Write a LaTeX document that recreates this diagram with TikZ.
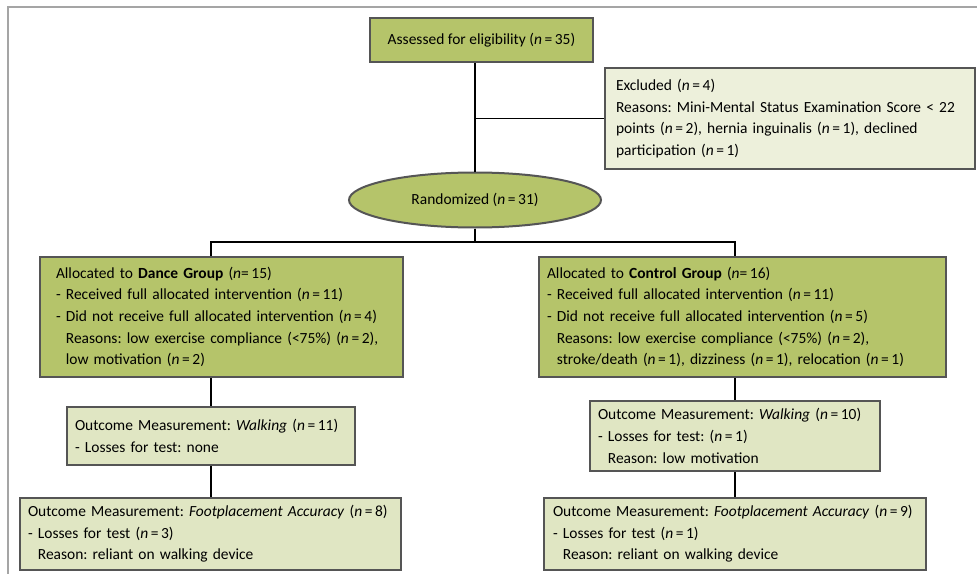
\documentclass[tikz,border=0pt]{standalone}
\usepackage{fontspec}
\setmainfont{Carlito}
\usepackage{tikz}
\usetikzlibrary{shapes.geometric,positioning,calc}
\definecolor{dancegreen}{RGB}{181,196,106}
\definecolor{outcomegreen}{RGB}{224,230,195}
\definecolor{exclgreen}{RGB}{237,240,219}
\definecolor{boxgray}{RGB}{85,85,85}
\definecolor{framegray}{RGB}{165,165,165}
\tikzstyle{box}=[draw=boxgray,line width=1.5pt,anchor=north west,align=left,inner ysep=0pt,font=\fontsize{11.6}{16.2}\selectfont]
\tikzstyle{link}=[line width=1.1pt]
\newcommand{\nn}[1]{(\textit{n}\,=\,#1)}
\newcommand{\ind}{\hphantom{- }}
\frenchspacing

\begin{document}
\begin{tikzpicture}[
  x=0.75pt, y=-0.75pt,
  greenbox/.style={box,fill=dancegreen},
  palebox/.style={box,fill=outcomegreen},
  exclbox/.style={box,fill=exclgreen},
  oval/.style={ellipse,draw=boxgray,line width=1.5pt,fill=dancegreen,inner sep=0pt,
    font=\fontsize{11.6}{16.2}\selectfont}
]
\useasboundingbox (0,0) rectangle (977,574);
\draw [framegray, line width=1.5pt] (8,574) -- (8,7.5) -- (977,7.5);

\node [greenbox, align=center, minimum width=167.25pt, minimum height=33pt] (assess)
  at (369,17) {Assessed for eligibility \nn{35}};
\node [exclbox, minimum width=277.5pt, minimum height=75.75pt, inner xsep=8.25pt, text width=261pt] (excl)
  at (604,67) {Excluded \nn{4}\\
  Reasons: Mini-Mental Status Examination Score < 22\\
  points \nn{2}, hernia inguinalis \nn{1}, declined\\
  participation \nn{1}};
\node [oval, minimum width=189pt, minimum height=41.25pt] (rand)
  at (475,200) {Randomized \nn{31}};

\node [greenbox, minimum width=272.25pt, minimum height=90pt, inner xsep=12pt, text width=248.25pt] (dance)
  at (39,256) {Allocated to \textbf{Dance Group} (\textit{n}=\,15)\\
  - Received full allocated intervention \nn{11}\\
  - Did not receive full allocated intervention \nn{4}\\
  \ind Reasons: low exercise compliance (<75\%) \nn{2},\\
  \ind low motivation \nn{2}};
\node [greenbox, minimum width=305.25pt, minimum height=90pt, inner xsep=6pt, text width=293.25pt] (control)
  at (538,256) {Allocated to \textbf{Control Group} (\textit{n}=\,16)\\
  - Received full allocated intervention \nn{11}\\
  - Did not receive full allocated intervention \nn{5}\\
  \ind Reasons: low exercise compliance (<75\%) \nn{2},\\
  \ind stroke/death \nn{1}, dizziness \nn{1}, relocation \nn{1}};

\node [palebox, minimum width=216pt, minimum height=43.5pt, inner xsep=6pt, text width=204pt] (dwalk)
  at (66,406) {Outcome Measurement: \textit{Walking} \nn{11}\\
  - Losses for test: none};
\node [palebox, minimum width=217.5pt, minimum height=52.5pt, inner xsep=6pt, text width=205.5pt] (cwalk)
  at (589,400) {Outcome Measurement: \textit{Walking} \nn{10}\\
  - Losses for test: \nn{1}\\
  \ind Reason: low motivation};

\node [palebox, minimum width=285.75pt, minimum height=54pt, inner xsep=6pt, text width=273.75pt] (dfoot)
  at (19,497) {Outcome Measurement: \textit{Footplacement Accuracy} \nn{8}\\
  - Losses for test \nn{3}\\
  \ind Reason: reliant on walking device};
\node [palebox, minimum width=286.5pt, minimum height=54pt, inner xsep=6.75pt, text width=273pt] (cfoot)
  at (543,497) {Outcome Measurement: \textit{Footplacement Accuracy} \nn{9}\\
  - Losses for test \nn{1}\\
  \ind Reason: reliant on walking device};

% connectors
\coordinate (split) at (475,242);
\draw [link] (rand.north |- assess.south) -- (rand.north);
\draw [link] (excl.west) -- (excl.west -| rand.north);
\draw [link] (rand.south) -- (split);
\draw [link] (dance.north -| dwalk.north) |- (split) -| (control.north -| cwalk.north);
\draw [link] (dance.south -| dwalk.north) -- (dwalk.north);
\draw [link] (dwalk.south) -- (dfoot.north -| dwalk.south);
\draw [link] (control.south -| cwalk.north) -- (cwalk.north);
\draw [link] (cwalk.south) -- (cfoot.north -| cwalk.south);

\end{tikzpicture}
\end{document}
